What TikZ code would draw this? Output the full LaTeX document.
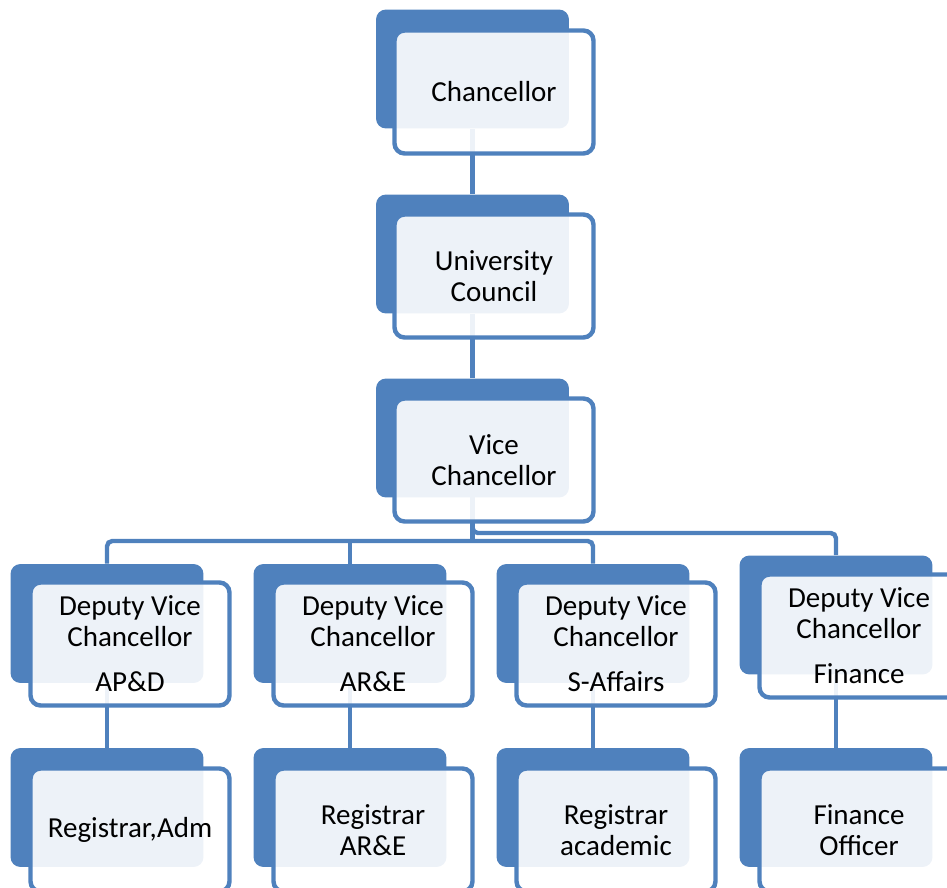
\documentclass[tikz,border=0pt]{standalone}
\usepackage{fontspec}
\setmainfont{Carlito}
\usetikzlibrary{backgrounds}
\definecolor{orgblue}{HTML}{4F81BD}

\begin{document}
\begin{tikzpicture}[x=0.02cm,y=-0.02cm,
	backbox/.style={fill=orgblue,rounded corners=0.2cm,inner sep=0pt,
		minimum width=3.86cm,minimum height=2.38cm},
	frontbox/.style={draw=orgblue,line width=2.5pt,fill=white,fill opacity=0.9,
		text opacity=1,rounded corners=0.2cm,inner sep=0pt,align=center,
		minimum width=3.98cm,minimum height=2.46cm,
		font=\fontsize{16.5}{17.6}\selectfont},
	link/.style={draw=orgblue,line width=2.5pt,rounded corners=3pt}]
	\useasboundingbox (0,0) rectangle (947,888);
	\clip (0,0) rectangle (947,888);
	% top of the chart
	\node[backbox] (chanB) at (472.5,69) {};
	\node[backbox] (ucB) at (472.5,254) {};
	\node[backbox] (vcB) at (472.5,438) {};
	% deputies and the offices under them
	\node[backbox] (dvc1B) at (107,623.5) {};
	\node[backbox] (dvc2B) at (350,623.5) {};
	\node[backbox] (dvc3B) at (593,623.5) {};
	\node[backbox] (dvc4B) at (836,615) {};
	\foreach \i/\x in {1/107,2/350,3/593,4/836}
		\node[backbox] (reg\i B) at (\x,807.5) {};
	\node[frontbox] (chan) at (494,92) {Chancellor};
	\node[frontbox] (uc) at (494,276) {University\\Council};
	\node[frontbox] (vc) at (494,460) {Vice\\Chancellor};
	\node[frontbox] (dvc1) at (130,644) {Deputy Vice\\Chancellor\\[8pt]AP\&D};
	\node[frontbox] (dvc2) at (373,644) {Deputy Vice\\Chancellor\\[8pt]AR\&E};
	\node[frontbox] (dvc3) at (616,644) {Deputy Vice\\Chancellor\\[8pt]S-Affairs};
	\node[frontbox] (dvc4) at (859,636) {Deputy Vice\\Chancellor\\[8pt]Finance};
	\node[frontbox] (reg1) at (130,830) {Registrar,Adm};
	\node[frontbox] (reg2) at (373,830) {Registrar\\AR\&E};
	\node[frontbox] (reg3) at (616,830) {Registrar\\academic};
	\node[frontbox] (reg4) at (859,830) {Finance\\Officer};
	\begin{pgfonlayer}{background}
		\draw[link] (chanB) -- (ucB);
		\draw[link] (ucB) -- (vcB);
		\draw[link] (vcB.center) -- ++(0,95) -| (dvc4B.north);
		\draw[link] (vcB.center) -- ++(0,103) coordinate (bus);
		\draw[link] (dvc1B.north) |- (bus) -| (dvc3B.north);
		\draw[link] (bus -| dvc2B.north) -- (dvc2B.north);
		\foreach \i in {1,2,3,4}
			\draw[link] (dvc\i B) -- (reg\i B);
	\end{pgfonlayer}
\end{tikzpicture}
\end{document}
